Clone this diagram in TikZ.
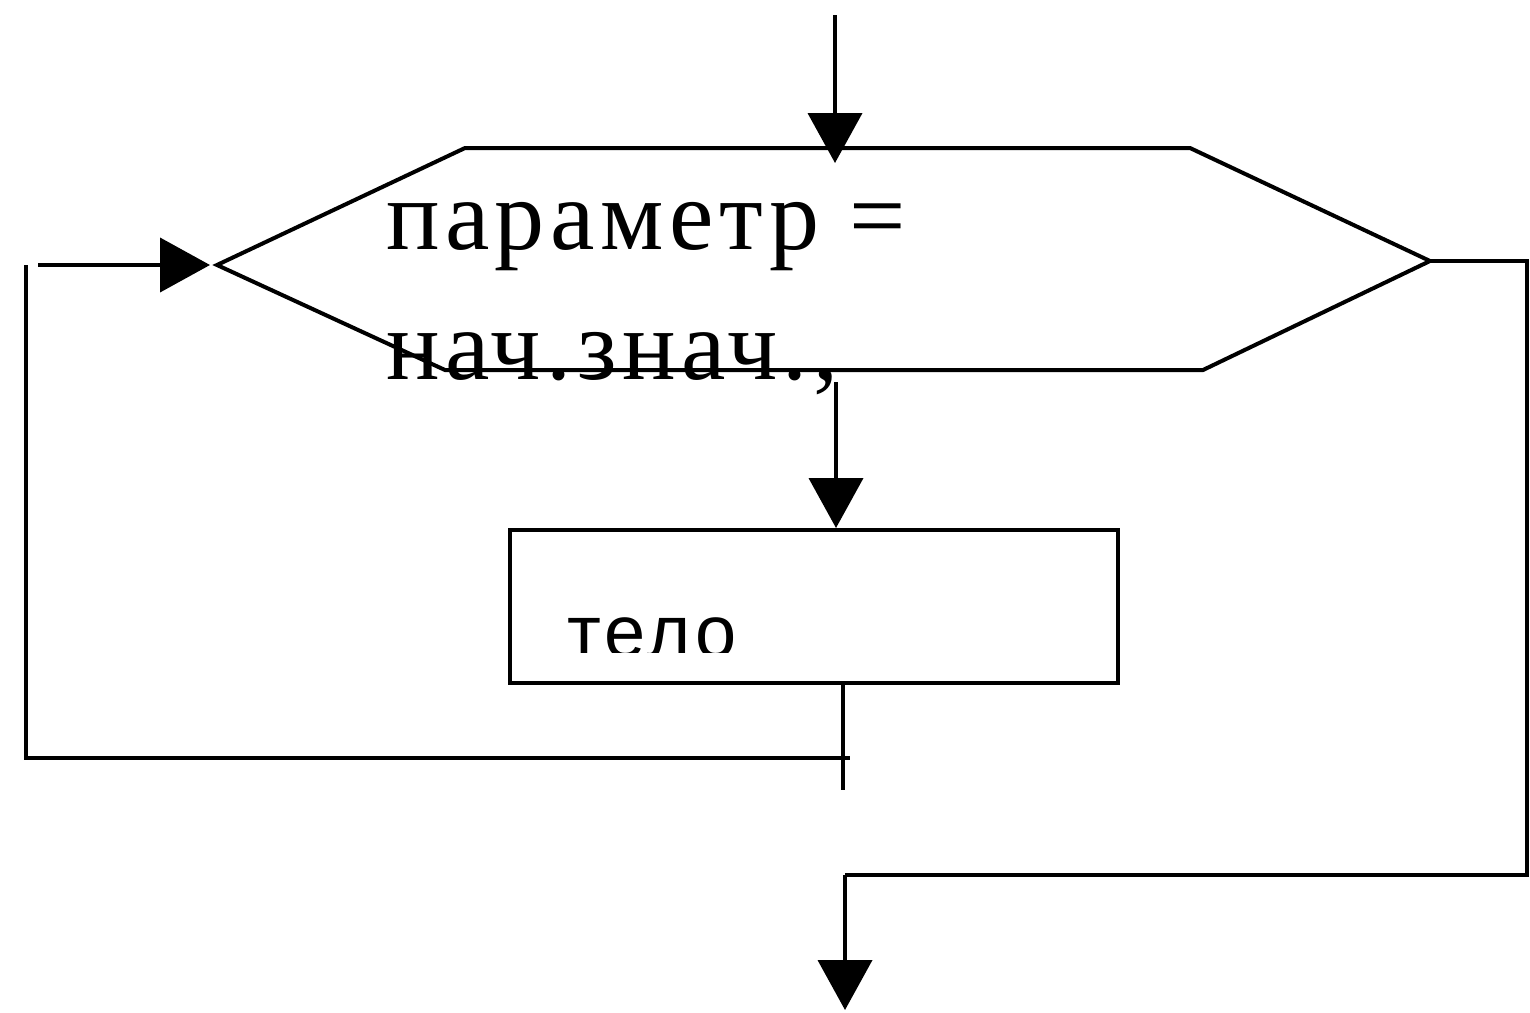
\documentclass[tikz,border=0pt]{standalone}
\usepackage{fontspec}
\newfontfamily\paramfont[LetterSpace=5.5]{Liberation Serif}
\newfontfamily\bodyfont[LetterSpace=6]{Liberation Sans}
\usetikzlibrary{arrows.meta}
\begin{document}
\begin{tikzpicture}[x=0.5pt,y=-0.5pt,
  line/.style={line width=2pt, line join=miter},
  arr/.style={line, -{Triangle[length=25pt,width=27pt]}},
  lbl/.style={anchor=base west, inner sep=0pt, outer sep=0pt}]
\useasboundingbox (0,0) rectangle (1530,1012);
% hexagon (loop header)
\coordinate (hTL) at (465,148);
\coordinate (hTR) at (1190,148);
\coordinate (hR)  at (1430,261);
\coordinate (hBR) at (1203,370);
\coordinate (hBL) at (445,370);
\coordinate (hL)  at (217,265);
\draw[line] (hTL) -- (hTR) -- (hR) -- (hBR) -- (hBL) -- (hL) -- cycle;
\node[lbl, font=\paramfont\fontsize{50}{65}\selectfont] (t1) at (386,249) {параметр =};
\node[lbl, font=\paramfont\fontsize{50}{65}\selectfont] (t2) at (386,379) {нач.знач.,};
% body
\node[draw, line width=2pt, minimum width=304pt, minimum height=76.5pt, inner sep=0pt] (body) at (814,606.5) {};
\begin{scope}
\clip (512,532) rectangle (1116,652);
\node[lbl, font=\bodyfont\fontsize{37}{44}\selectfont] (t3) at (567,657) {тело};
\end{scope}
% connectors
\coordinate (in)   at (835,15);
\coordinate (inT)  at (835,163);
\draw[arr] (in) -- (inT);
\coordinate (hexout) at (836,382);
\draw[arr] (hexout) -- (hexout |- body.north);
\coordinate (bodyend) at (843,790);
\draw[line] (bodyend |- body.south) -- (bodyend);
\coordinate (loopA) at (26,265);
\coordinate (loopB) at (850,758);
\draw[line] (loopA) |- (loopB);
\coordinate (back0) at (38,265);
\coordinate (backT) at (210,265);
\draw[arr] (back0) -- (backT);
\coordinate (exR1) at (1527,261);
\coordinate (exR) at (1527,875);
\coordinate (exL) at (845,875);
\coordinate (exit) at (845,1010);
\draw[line] (hR) -- (exR1) -- (exR) -- (exL);
\draw[arr] (exL) -- (exit);
\end{tikzpicture}
\end{document}
